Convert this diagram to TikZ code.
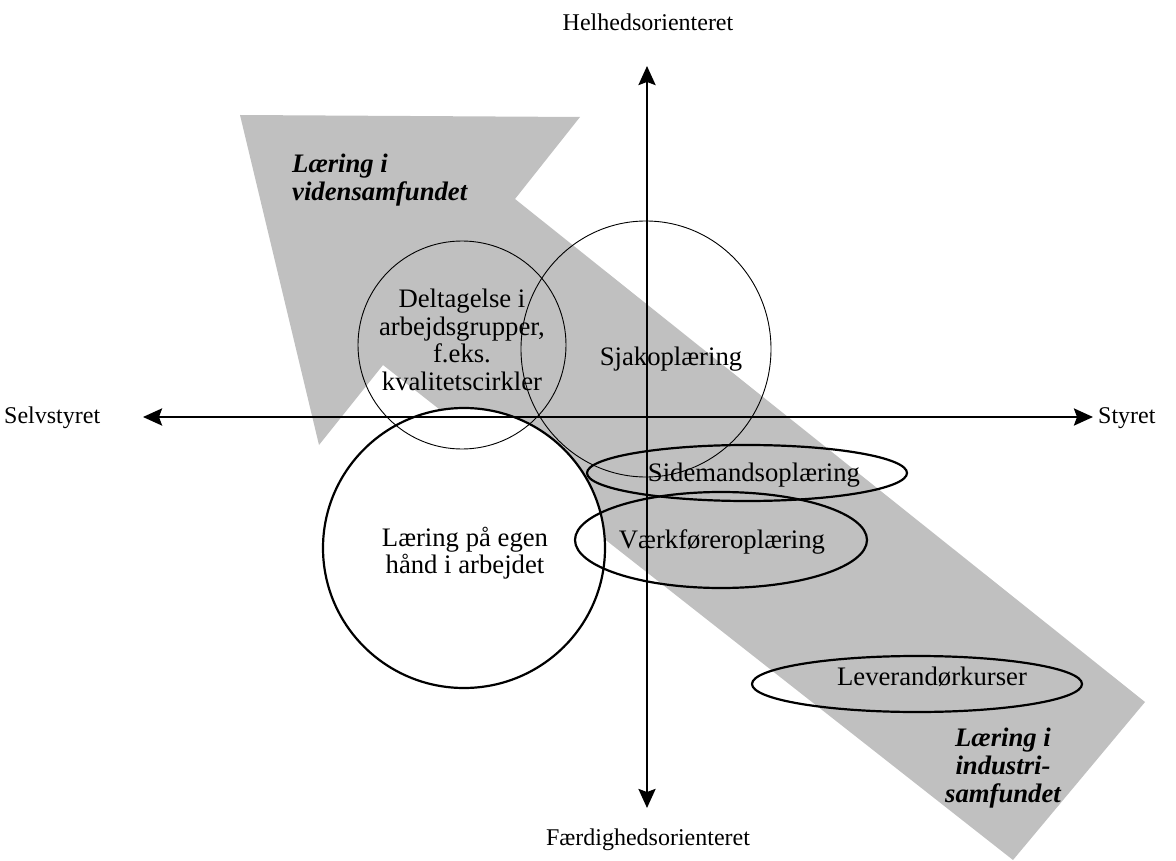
\documentclass[tikz,border=0pt]{standalone}
\usepackage{fontspec}
\setmainfont{Liberation Serif}
\usetikzlibrary{arrows.meta,shapes.geometric}
\definecolor{arrowgray}{RGB}{192,192,192}
\begin{document}
\begin{tikzpicture}[x=1pt,y=-1pt,
  txt/.style={font=\fontsize{26.7}{27.5}\selectfont, inner sep=0pt, align=center},
  axlabel/.style={font=\fontsize{24}{27}\selectfont, inner sep=0pt},
  boldlabel/.style={font=\fontsize{26.7}{28}\selectfont\bfseries\itshape, inner sep=0pt},
  axisline/.style={line width=2.6pt, {Stealth[length=19pt,width=17pt,inset=3pt]}-{Stealth[length=19pt,width=17pt,inset=3pt]}},
  thinring/.style={draw, line width=0.9pt},
  thickring/.style={draw, line width=2.2pt}]
\useasboundingbox (0,0) rectangle (1176,861);

% big gray arrow
\fill[arrowgray] (240,115) -- (580,117) -- (515,199) -- (1145,702) -- (1013,860) -- (383,365) -- (319,445) -- cycle;

% circles and ellipses
\draw[thickring, fill=white] (464,548) ellipse [x radius=141, y radius=140];
\draw[thinring] (462,345) ellipse [x radius=104, y radius=104];
\draw[thinring] (646,349) ellipse [x radius=125, y radius=128];
\draw[thickring] (747,473) ellipse [x radius=160, y radius=28];
\draw[thickring] (721,540) ellipse [x radius=146, y radius=48];
\draw[thickring] (917,684) ellipse [x radius=165, y radius=28];

% axes
\coordinate (top) at (647,66);
\coordinate (bottom) at (647,808);
\coordinate (left) at (143,417);
\coordinate (right) at (1093,417);
\draw[axisline] (bottom) -- (top);
\draw[axisline] (left) -- (right);

% axis labels
\node[axlabel] (helhed) at (648,22) {Helhedsorienteret};
\node[axlabel] (faerd) at (648,840) {Færdighedsorienteret};
\node[axlabel, anchor=west] (selv) at (4,418) {Selvstyret};
\node[axlabel, anchor=west] (styret) at (1098,418) {Styret};

% arrow labels
\node[boldlabel, align=left, anchor=west] (viden) at (292,180) {Læring i\\vidensamfundet};
\node[boldlabel, align=center] (industri) at (1003,768) {Læring i\\industri-\\samfundet};

% circle labels
\node[txt] (delt) at (462,340) {Deltagelse i\\arbejdsgrupper,\\f.eks.\\kvalitetscirkler};
\node[txt] (sjak) at (671,359) {Sjakoplæring};
\node[txt] (egen) at (465,553) {Læring på egen\\hånd i arbejdet};
\node[txt] (side) at (754,475) {Sidemandsoplæring};
\node[txt] (vaerk) at (722,542) {Værkføreroplæring};
\node[txt] (lev) at (932,677) {Leverandørkurser};
\end{tikzpicture}
\end{document}
